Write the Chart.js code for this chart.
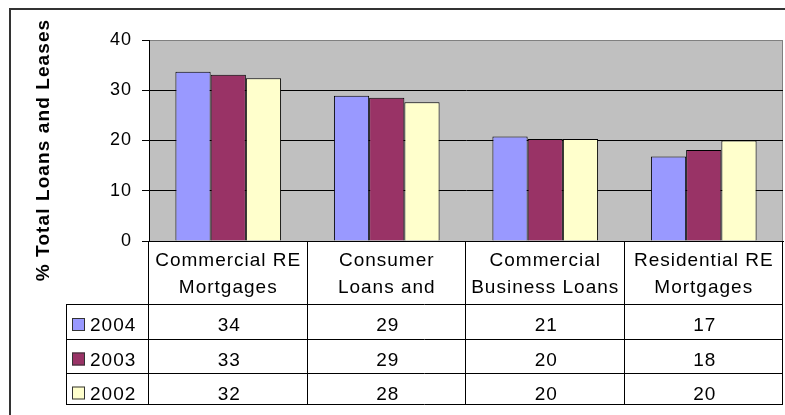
<!DOCTYPE html>
<html>
<head>
<meta charset="utf-8">
<script src="https://cdn.jsdelivr.net/npm/chart.js@4"></script>
<style>
  body { margin: 0; background: #fff; }
  canvas { display: block; }
</style>
</head>
<body>
<canvas id="loansChart" width="785" height="415"></canvas>
<script>
// categories (Excel clips the 2nd label to "Loans and")
let categories = [["Commercial RE", "Mortgages"], ["Consumer", "Loans and"], ["Commercial", "Business Loans"], ["Residential RE", "Mortgages"]];
let years = ["2004", "2003", "2002"];
let values2004 = [33.7, 28.9, 20.8, 16.8];
let values2003 = [33.1, 28.5, 20.3, 18.1];
let values2002 = [32.4, 27.6, 20.3, 20.0];
let yTicks = [0, 10, 20, 30, 40];
let yTitle = "% Total Loans and Leases";

let colors = ["#9999FF", "#993366", "#FFFFCC"];
let series = [values2004, values2003, values2002];

Chart.defaults.font.family = "'Liberation Sans', Arial, sans-serif";
Chart.defaults.color = "#000";

// frame, grey plot area, y title and the data table under the axis
let excelLook = {
    id: "excelLook",
    beforeDraw: function (chart) {
        let ctx = chart.ctx;
        let a = chart.chartArea;
        ctx.save();
        ctx.strokeStyle = "#333";
        ctx.lineWidth = 2;
        ctx.strokeRect(10, 9, 800, 500);
        ctx.fillStyle = "#C0C0C0";
        ctx.fillRect(a.left, a.top, a.right - a.left, a.bottom - a.top);
        ctx.strokeStyle = "#808080";
        ctx.lineWidth = 1;
        ctx.strokeRect(a.left + 0.5, a.top + 0.5, a.right - a.left - 1, a.bottom - a.top);
        ctx.restore();
        // Excel draws its text a little wider than canvas does
        ctx.letterSpacing = "1px";
    },
    afterDraw: function (chart) {
        let ctx = chart.ctx;
        let x = chart.scales.x;
        let a = chart.chartArea;
        let colW = (x.right - x.left) / categories.length;
        let rows = [304, 338.5, 372.5, 404];
        let legLeft = 66;

        ctx.save();
        ctx.letterSpacing = "1.1px";
        ctx.font = "bold 19px 'Liberation Sans', Arial, sans-serif";
        ctx.fillStyle = "#000";
        ctx.textAlign = "center";
        ctx.textBaseline = "middle";
        ctx.translate(43.5, 150);
        ctx.rotate(-Math.PI / 2);
        ctx.fillText(yTitle, 0, 0);
        ctx.restore();

        ctx.save();
        ctx.strokeStyle = "#000";
        ctx.lineWidth = 1;
        ctx.beginPath();
        for (let i = 0; i <= categories.length; i++) {
            let px = Math.round(x.left + colW * i) - 0.5;
            ctx.moveTo(px, a.bottom);
            ctx.lineTo(px, rows[3]);
        }
        rows.forEach(function (ry) {
            ctx.moveTo(legLeft, Math.round(ry) + 0.5);
            ctx.lineTo(x.right, Math.round(ry) + 0.5);
        });
        ctx.moveTo(legLeft + 0.5, rows[0]);
        ctx.lineTo(legLeft + 0.5, rows[3]);
        ctx.stroke();

        ctx.font = "19px 'Liberation Sans', Arial, sans-serif";
        ctx.letterSpacing = "1px";
        ctx.textBaseline = "alphabetic";
        for (let r = 0; r < years.length; r++) {
            let base = rows[r] + 27;
            ctx.fillStyle = colors[r];
            ctx.fillRect(72, base - 13, 13, 13);
            ctx.strokeStyle = "#333";
            ctx.strokeRect(72.5, base - 12.5, 12, 12);
            ctx.fillStyle = "#000";
            ctx.textAlign = "left";
            ctx.fillText(years[r], 90, base);
            ctx.textAlign = "center";
            for (let c = 0; c < categories.length; c++) {
                ctx.fillText(String(Math.round(series[r][c])), x.getPixelForValue(c) + 1, base);
            }
        }
        ctx.restore();
    }
};

new Chart(document.getElementById("loansChart"), {
    type: "bar",
    data: {
        labels: categories,
        datasets: years.map(function (yr, i) {
            return {
                label: yr,
                data: series[i],
                backgroundColor: colors[i],
                borderColor: "#000",
                borderWidth: 1,
                categoryPercentage: 3 / 4.5,
                barPercentage: 1
            };
        })
    },
    options: {
        responsive: false,
        animation: false,
        layout: { padding: { left: 0, top: 40, right: 2, bottom: 0 } },
        plugins: { legend: { display: false }, tooltip: { enabled: false } },
        scales: {
            x: {
                afterFit: function (s) { s.height = 174; },
                grid: { drawOnChartArea: false, drawTicks: false },
                border: { display: true, color: "#000", width: 1 },
                ticks: {
                    autoSkip: false,
                    maxRotation: 0,
                    padding: 6,
                    color: "#000",
                    font: { size: 19, lineHeight: 27 / 19 }
                }
            },
            y: {
                min: 0,
                max: 40,
                afterFit: function (s) { s.width = 149; },
                afterBuildTicks: function (s) {
                    s.ticks = yTicks.map(function (v) { return { value: v }; });
                },
                grid: {
                    color: function (c) { return c.tick && c.tick.value === 40 ? "rgba(0,0,0,0)" : "#000"; },
                    tickColor: "#000",
                    tickLength: 7
                },
                border: { display: true, color: "#000", width: 1 },
                ticks: {
                    padding: 10,
                    color: "#000",
                    font: { size: 18 }
                }
            }
        }
    },
    plugins: [excelLook]
});
</script>
</body>
</html>
